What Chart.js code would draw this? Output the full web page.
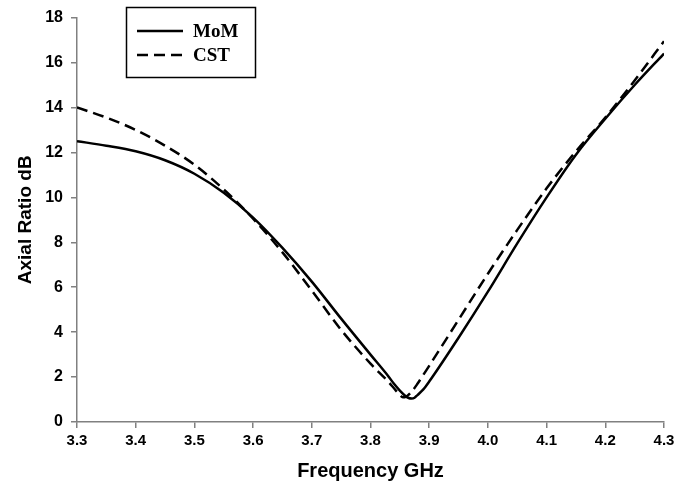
<!DOCTYPE html>
<html>
<head>
<meta charset="utf-8">
<script src="https://cdn.jsdelivr.net/npm/chart.js@4/dist/chart.umd.min.js"></script>
<style>
  html, body { margin: 0; padding: 0; background: #fff; }
  #wrap { width: 688px; height: 487px; }
</style>
</head>
<body>
<div id="wrap"><canvas id="arChart"></canvas></div>
<script>
// values
const freqMoM  = [3.30, 3.35, 3.40, 3.45, 3.50, 3.55, 3.60, 3.65, 3.70, 3.75, 3.80, 3.83, 3.84, 3.85, 3.86, 3.865, 3.87, 3.875, 3.88, 3.89, 3.90, 3.95, 4.00, 4.05, 4.10, 4.15, 4.20, 4.25, 4.30];
const axialMoM = [12.5, 12.3, 12.05, 11.65, 11.05, 10.2, 9.1, 7.75, 6.25, 4.6, 3.0, 2.05, 1.7, 1.4, 1.15, 1.07, 1.05, 1.08, 1.2, 1.45, 1.8, 3.75, 5.8, 7.95, 10.0, 11.9, 13.5, 15.0, 16.4];

const freqCST  = [3.30, 3.35, 3.40, 3.45, 3.50, 3.55, 3.60, 3.65, 3.70, 3.75, 3.80, 3.83, 3.84, 3.85, 3.855, 3.86, 3.87, 3.88, 3.89, 3.90, 3.95, 4.00, 4.05, 4.10, 4.15, 4.20, 4.25, 4.30];
const axialCST = [14.0, 13.55, 13.0, 12.3, 11.45, 10.35, 9.05, 7.55, 5.85, 4.1, 2.6, 1.8, 1.5, 1.2, 1.1, 1.12, 1.35, 1.7, 2.1, 2.5, 4.55, 6.6, 8.55, 10.4, 12.05, 13.55, 15.2, 16.95];

const seriesNames = ['MoM', 'CST'];
const xTicks = [3.3, 4.3, 0.1];   // min, max, step
const yTicks = [0, 18, 2];

function toPoints(xs, ys) {
    return xs.map((x, i) => ({ x: x, y: ys[i] }));
}

// boxed legend like the original figure
const boxLegend = {
    id: 'boxLegend',
    afterDraw(chart) {
        const ctx = chart.ctx;
        ctx.save();
        ctx.strokeStyle = '#000';
        ctx.lineWidth = 1.5;
        ctx.strokeRect(126.5, 7.5, 129, 70);
        chart.data.datasets.forEach((ds, i) => {
            const y = 31 + i * 24;
            ctx.beginPath();
            ctx.setLineDash(ds.borderDash || []);
            ctx.lineWidth = 2.5;
            ctx.moveTo(137, y);
            ctx.lineTo(183, y);
            ctx.stroke();
            ctx.setLineDash([]);
            ctx.fillStyle = '#000';
            ctx.font = 'bold 19px "Liberation Serif"';
            ctx.textBaseline = 'middle';
            ctx.fillText(ds.label, 193, y + 1);
        });
        ctx.restore();
    }
};

const ctx = document.getElementById('arChart').getContext('2d');
new Chart(ctx, {
    type: 'line',
    data: {
        datasets: [{
            label: seriesNames[0],
            data: toPoints(freqMoM, axialMoM),
            borderColor: '#000',
            borderWidth: 2.5,
            pointRadius: 0,
            fill: false,
            cubicInterpolationMode: 'monotone'
        }, {
            label: seriesNames[1],
            data: toPoints(freqCST, axialCST),
            borderColor: '#000',
            borderWidth: 2.5,
            borderDash: [11, 6],
            pointRadius: 0,
            fill: false,
            cubicInterpolationMode: 'monotone'
        }]
    },
    options: {
        responsive: true,
        maintainAspectRatio: false,
        animation: false,
        layout: { padding: { top: 17, right: 24, left: 0, bottom: 0 } },
        plugins: {
            legend: { display: false },
            tooltip: { enabled: false }
        },
        scales: {
            x: {
                type: 'linear',
                min: xTicks[0],
                max: xTicks[1],
                afterFit: (s) => { s.height = 65; },
                grid: { drawOnChartArea: false, color: '#808080', tickLength: 6, lineWidth: 1.5 },
                border: { color: '#808080', width: 1.5 },
                ticks: {
                    stepSize: xTicks[2],
                    color: '#000',
                    padding: 4,
                    font: { family: '"Liberation Sans", Arial', size: 15, weight: 'bold' },
                    callback: (v) => v.toFixed(1)
                },
                title: {
                    display: true,
                    text: 'Frequency GHz',
                    color: '#000',
                    padding: { top: 8 },
                    font: { family: '"Liberation Sans", Arial', size: 20, weight: 'bold' }
                }
            },
            y: {
                min: yTicks[0],
                max: yTicks[1],
                afterFit: (s) => { s.width = 77; },
                grid: { drawOnChartArea: false, color: '#808080', tickLength: 6, lineWidth: 1.5 },
                border: { color: '#808080', width: 1.5 },
                ticks: {
                    stepSize: yTicks[2],
                    color: '#000',
                    padding: 8,
                    font: { family: '"Liberation Sans", Arial', size: 16, weight: 'bold' }
                },
                title: {
                    display: true,
                    text: 'Axial Ratio dB',
                    color: '#000',
                    padding: { top: 14, bottom: 4 },
                    font: { family: '"Liberation Sans", Arial', size: 19, weight: 'bold' }
                }
            }
        }
    },
    plugins: [boxLegend]
});
</script>
</body>
</html>
